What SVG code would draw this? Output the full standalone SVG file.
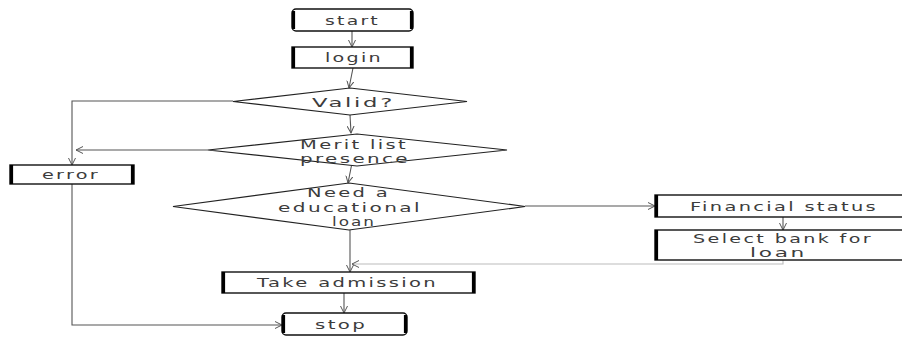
<svg xmlns="http://www.w3.org/2000/svg" width="902" height="337" viewBox="0 0 902 337">
  <defs>
    <marker id="arrow" viewBox="0 0 8 8" refX="7" refY="4" markerWidth="8" markerHeight="8" markerUnits="userSpaceOnUse" orient="auto">
      <path d="M0,0.5 L7,4 L0,7.5" fill="none" stroke="#555" stroke-width="1"/>
    </marker>
  </defs>
  <style>
    .box { fill: #fff; stroke: #111; stroke-width: 1.4; }
    .side { stroke: #000; stroke-width: 3.2; }
    .dia { fill: #fff; stroke: #222; stroke-width: 1.2; }
    .lbl { font-family: "DejaVu Sans", "Liberation Sans", sans-serif; font-size: 12.5px; letter-spacing: 1.5px; fill: #3c3c3c; text-anchor: start; }
    .conn { fill: none; stroke: #555; stroke-width: 1.1; marker-end: url(#arrow); }
  </style>
  <rect width="902" height="337" fill="#fff"/>

  <g id="connectors">
    <line class="conn" x1="352" y1="31" x2="352" y2="47"/>
    <line class="conn" x1="353" y1="68" x2="349" y2="88"/>
    <line class="conn" x1="350" y1="115" x2="351" y2="133"/>
    <line class="conn" x1="352" y1="163" x2="348" y2="183"/>
    <polyline class="conn" points="233,101 72,101 72,165"/>
    <line class="conn" x1="208" y1="150" x2="76" y2="150"/>
    <line class="conn" x1="525" y1="206" x2="655" y2="206"/>
    <line class="conn" x1="783" y1="217" x2="783" y2="230"/>
    <polyline class="conn" points="783,260 783,264 352,264" style="stroke:#bbb"/>
    <line class="conn" x1="350" y1="230" x2="350" y2="272"/>
    <line class="conn" x1="344" y1="293" x2="344" y2="313"/>
    <polyline class="conn" points="72,184 72,325 282,325"/>
  </g>

  <g id="start">
    <rect class="box" x="292" y="9" width="121" height="22" rx="4"/>
    <line class="side" x1="293.5" y1="11" x2="293.5" y2="29"/>
    <line class="side" x1="411.5" y1="11" x2="411.5" y2="29"/>
    <text class="lbl" x="325" y="25" textLength="55" lengthAdjust="spacingAndGlyphs">start</text>
  </g>

  <g id="login">
    <rect class="box" x="292" y="47" width="121" height="21"/>
    <line class="side" x1="293.5" y1="47" x2="293.5" y2="68"/>
    <line class="side" x1="411.5" y1="47" x2="411.5" y2="68"/>
    <text class="lbl" x="325" y="62" textLength="58" lengthAdjust="spacingAndGlyphs">login</text>
  </g>

  <g id="valid">
    <polygon class="dia" points="350,88 467,101.5 350,115 233,101.5"/>
    <text class="lbl" x="312" y="107" textLength="83" lengthAdjust="spacingAndGlyphs">Valid?</text>
  </g>

  <g id="merit">
    <polygon class="dia" points="357,134 507,150 357,166 208,150"/>
    <text class="lbl" x="300" y="149" textLength="108" lengthAdjust="spacingAndGlyphs">Merit list</text>
    <text class="lbl" x="300" y="163" textLength="110" lengthAdjust="spacingAndGlyphs">presence</text>
  </g>

  <g id="need-loan">
    <polygon class="dia" points="349,183 525,206.5 349,230 173,206.5"/>
    <text class="lbl" x="307" y="197" textLength="83" lengthAdjust="spacingAndGlyphs">Need a</text>
    <text class="lbl" x="278" y="212" textLength="144" lengthAdjust="spacingAndGlyphs">educational</text>
    <text class="lbl" x="332" y="226" textLength="44" lengthAdjust="spacingAndGlyphs">loan</text>
  </g>

  <g id="error">
    <rect class="box" x="10" y="165" width="124" height="19"/>
    <line class="side" x1="11.5" y1="165" x2="11.5" y2="184"/>
    <line class="side" x1="132.5" y1="165" x2="132.5" y2="184"/>
    <text class="lbl" x="42" y="179" textLength="58" lengthAdjust="spacingAndGlyphs">error</text>
  </g>

  <g id="financial">
    <rect class="box" x="655" y="195" width="260" height="22"/>
    <line class="side" x1="656.5" y1="195" x2="656.5" y2="217"/>
    <text class="lbl" x="690" y="211" textLength="188" lengthAdjust="spacingAndGlyphs">Financial status</text>
  </g>

  <g id="select-bank">
    <rect class="box" x="655" y="230" width="260" height="30"/>
    <line class="side" x1="656.5" y1="230" x2="656.5" y2="260"/>
    <text class="lbl" x="693" y="243" textLength="180" lengthAdjust="spacingAndGlyphs" style="font-size:12px">Select bank for</text>
    <text class="lbl" x="750" y="257" textLength="57" lengthAdjust="spacingAndGlyphs" style="font-size:12px">loan</text>
  </g>

  <g id="admission">
    <rect class="box" x="222" y="272" width="253" height="21"/>
    <line class="side" x1="223.5" y1="272" x2="223.5" y2="293"/>
    <line class="side" x1="473.5" y1="272" x2="473.5" y2="293"/>
    <text class="lbl" x="257" y="287" textLength="181" lengthAdjust="spacingAndGlyphs">Take admission</text>
  </g>

  <g id="stop">
    <rect class="box" x="282" y="313" width="125" height="22" rx="4"/>
    <line class="side" x1="283.5" y1="315" x2="283.5" y2="333"/>
    <line class="side" x1="405.5" y1="315" x2="405.5" y2="333"/>
    <text class="lbl" x="315" y="329" textLength="52" lengthAdjust="spacingAndGlyphs">stop</text>
  </g>
</svg>
